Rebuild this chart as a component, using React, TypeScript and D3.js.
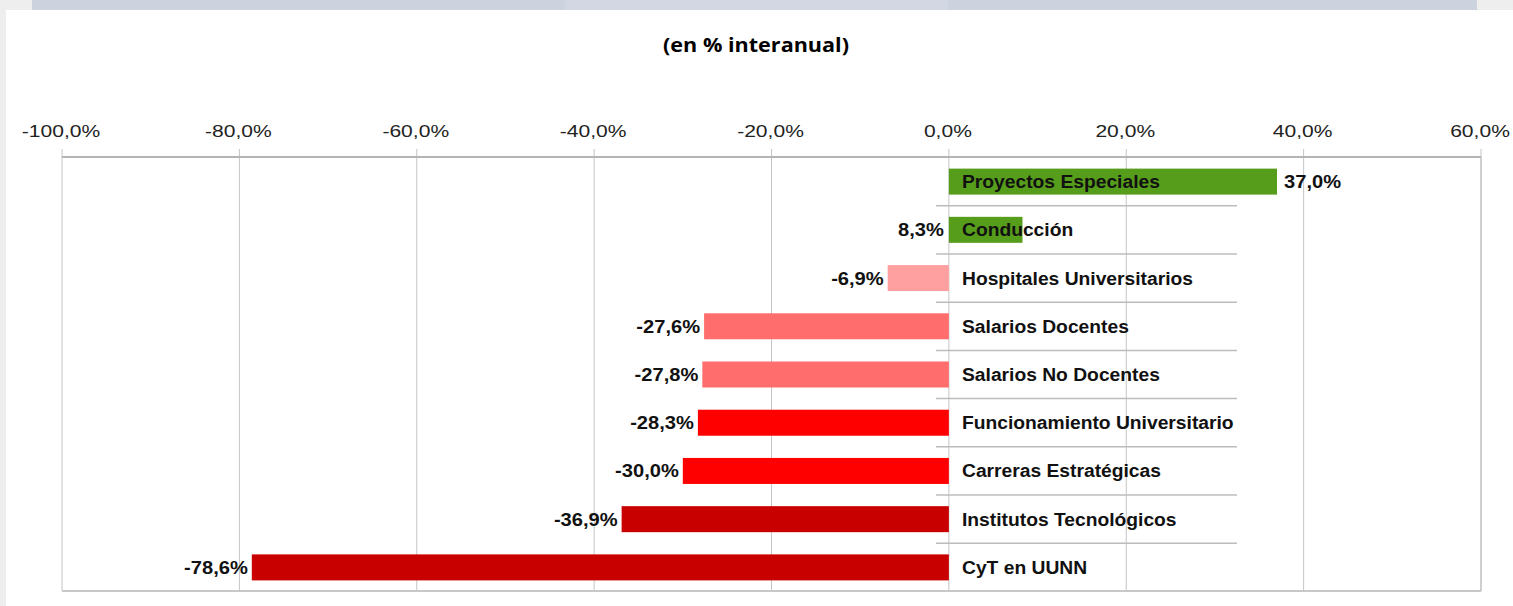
import React from "react";
import * as d3 from "d3";

const categories = [
  "Proyectos Especiales",
  "Conducción",
  "Hospitales Universitarios",
  "Salarios Docentes",
  "Salarios No Docentes",
  "Funcionamiento Universitario",
  "Carreras Estratégicas",
  "Institutos Tecnológicos",
  "CyT en UUNN",
];
const values = [37.0, 8.3, -6.9, -27.6, -27.8, -28.3, -30.0, -36.9, -78.6];
const barColors = [
  "#579d1c",
  "#579d1c",
  "#ffa0a0",
  "#ff6d6d",
  "#ff6d6d",
  "#ff0000",
  "#ff0000",
  "#c80000",
  "#c80000",
];
const tickValues = [-100, -80, -60, -40, -20, 0, 20, 40, 60];
const title = "(en % interanual)";

const W = 1513;
const H = 606;

const locale = d3.formatLocale({
  decimal: ",",
  thousands: ".",
  grouping: [3],
  currency: ["", "€"],
  minus: "-",
});
const fmt1 = locale.format(".1f");
const pct = (v: number) => fmt1(v) + "%";

const gridColor = "#c4c4c4";

function SText(props: {
  x: number;
  y: number;
  sx: number;
  anchor: string;
  size: number;
  weight?: string;
  family?: string;
  fill?: string;
  letterSpacing?: number;
  children: React.ReactNode;
}) {
  return (
    <text
      transform={`translate(${props.x},${props.y}) scale(${props.sx},1)`}
      textAnchor={props.anchor as any}
      fontSize={props.size}
      fontWeight={props.weight || "normal"}
      fontFamily={props.family || "'Liberation Sans', Arial, sans-serif"}
      fill={props.fill || "#000"}
      letterSpacing={props.letterSpacing || 0}
    >
      {props.children}
    </text>
  );
}

export default function App() {
  const x = d3.scaleLinear().domain([-100, 60]).range([62, 1481]);
  const y = d3.scaleBand<string>().domain(categories).range([157.5, 591.5]).padding(0);
  const barH = 26;
  const top = 157;
  const bottom = 591;
  const x0 = x(0);

  return (
    <svg
      width={W}
      height={H}
      style={{ position: "absolute", left: 0, top: 0, display: "block" }}
    >
      <rect x={0} y={0} width={W} height={H} fill="#ffffff" />
      {/* frame decorations */}
      <rect x={0} y={0} width={32} height={10} fill="#eeeeee" />
      <rect x={32} y={0} width={1445} height={10} fill="#cdd2df" />
      <rect x={565} y={0} width={383} height={10} fill="#d3d7e3" />
      <rect x={1477} y={0} width={36} height={10} fill="#eeeeee" />
      <rect x={0} y={10} width={6} height={H - 10} fill="#eeeeee" />

      {/* title */}
      <SText
        x={756}
        y={52}
        sx={1.08}
        anchor="middle"
        size={20}
        weight="bold"
        family="'Open Sans', 'Noto Sans', sans-serif"
      >
        {title}
      </SText>

      {/* vertical gridlines */}
      {tickValues.map((t) => (
        <line
          key={"g" + t}
          x1={x(t)}
          x2={x(t)}
          y1={149}
          y2={bottom}
          stroke={gridColor}
          strokeWidth={1}
        />
      ))}
      {/* right & bottom border */}
      <line x1={x(60)} x2={x(60)} y1={top} y2={bottom} stroke="#c8c8c8" strokeWidth={1.5} />
      <line x1={x(-100)} x2={x(60)} y1={bottom} y2={bottom} stroke="#c8c8c8" strokeWidth={2} />
      {/* top axis line */}
      <line x1={x(-100)} x2={x(60)} y1={157} y2={157} stroke="#b4b4b4" strokeWidth={2} />

      {/* tick labels */}
      {tickValues.map((t) => (
        <SText key={"t" + t} x={x(t) - 1} y={137} sx={1.24} anchor="middle" size={17} fill="#222">
          {pct(t)}
        </SText>
      ))}

      {/* category separators */}
      {categories.slice(1).map((c) => (
        <line
          key={"s" + c}
          x1={x0 - 13}
          x2={1237}
          y1={y(c)!}
          y2={y(c)!}
          stroke="#bcbcbc"
          strokeWidth={1.5}
        />
      ))}

      {/* bars */}
      {categories.map((c, i) => {
        const v = values[i];
        const cy = y(c)! + y.bandwidth() / 2;
        return (
          <rect
            key={"b" + c}
            x={Math.min(x(v), x0)}
            y={cy - barH / 2}
            width={Math.abs(x(v) - x0)}
            height={barH}
            fill={barColors[i]}
          />
        );
      })}

      {/* category labels */}
      {categories.map((c) => {
        const cy = y(c)! + y.bandwidth() / 2;
        return (
          <SText key={"c" + c} x={962} y={cy + 6.5} sx={1.07} anchor="start" size={18} weight="bold" fill="#111">
            {c}
          </SText>
        );
      })}

      {/* value labels */}
      {categories.map((c, i) => {
        const v = values[i];
        const cy = y(c)! + y.bandwidth() / 2;
        let lx: number;
        let anchor: string;
        if (v < 0) {
          lx = x(v) - 4;
          anchor = "end";
        } else if (v >= 20) {
          lx = x(v) + 7;
          anchor = "start";
        } else {
          lx = x0 - 5;
          anchor = "end";
        }
        return (
          <SText key={"v" + c} x={lx} y={cy + 6.5} sx={1.15} anchor={anchor} size={17.5} weight="bold" fill="#111">
            {pct(v)}
          </SText>
        );
      })}
    </svg>
  );
}
